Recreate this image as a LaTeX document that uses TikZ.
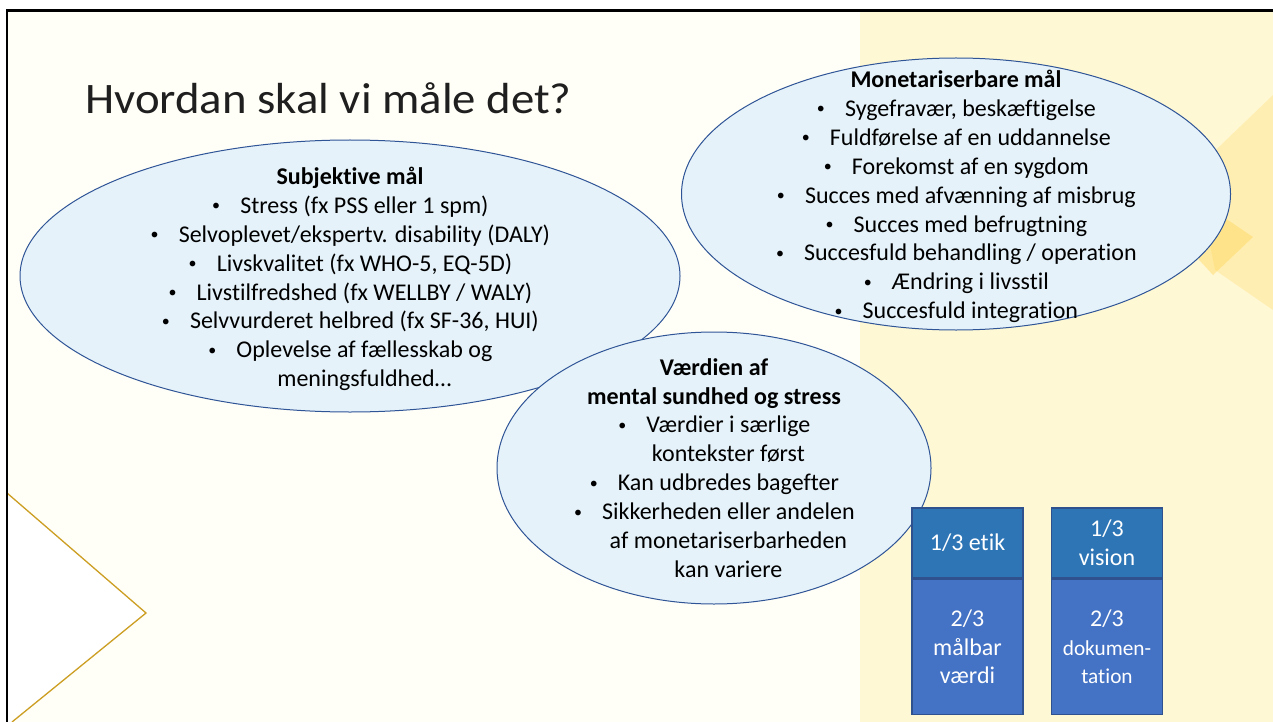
\documentclass[tikz,border=0pt]{standalone}
\usepackage{fontspec}
\setmainfont{Carlito}[Ligatures=CommonOff]
\usetikzlibrary{shapes.geometric,positioning}

\definecolor{bubblefill}{RGB}{229,242,249}
\definecolor{bubbleline}{RGB}{47,85,151}
\definecolor{etikblue}{RGB}{46,117,182}
\definecolor{maalblue}{RGB}{68,114,196}
\definecolor{boxline}{RGB}{47,82,143}
\definecolor{chevron}{RGB}{204,158,34}
\definecolor{slidebg}{RGB}{255,254,247}
\definecolor{tapeyellow}{RGB}{255,248,212}
\definecolor{tapegold}{RGB}{255,212,80}

\newcommand{\bul}{\makebox[1.2em][l]{\hspace{0.03em}\raisebox{0.11em}{\fontsize{16}{16}\selectfont •}}}
\newcommand{\ind}{\hspace*{1.2em}}

\tikzset{
  bubble/.style={ellipse, draw=bubbleline, fill=bubblefill, line width=1, inner sep=0},
  bubbletext/.style={align=center, inner sep=0, font=\fontsize{24}{28.9}\selectfont},
  cell/.style={rectangle, draw=boxline, line width=1.3, text=white, align=center,
    minimum width=111, inner sep=0, font=\fontsize{24}{28.8}\selectfont},
}

\begin{document}
\begin{tikzpicture}[x=1pt,y=-1pt]
\useasboundingbox (0,0) rectangle (1273,722);
\clip (0,0) rectangle (1273,722);

% baggrund
\fill[white] (0,0) rectangle (1273,722);
\fill[slidebg] (7,10.7) rectangle (1273,722);
\fill[tapeyellow] (860,12) rectangle (1273,722);
\fill[tapegold, opacity=.25] (1195,170) -- (1273,95) -- (1273,310) -- (1215,270) -- cycle;
\fill[tapegold, opacity=.4] (1190,250) -- (1213,210) -- (1253,237) -- (1213,275) -- cycle;
\fill[white] (7,493) -- (146,613) -- (12,722) -- (7,722) -- cycle;
\draw[chevron, line width=1.3] (7,493) -- (146,613) -- (12,722);
\draw[line width=2.5] (7,730) -- (7,10.7) -- (1280,10.7);

% titel
\node[anchor=base west, inner sep=0, text=black!88, font=\fontsize{43.5}{50}\selectfont] (titel) at (85,114) {\scalebox{1.075}[1]{Hvordan skal vi måle det?}};

% subjektive
\node[bubble, minimum width=660, minimum height=272] (subj) at (350,276) {};
\node[bubbletext] (subjtxt) at ([yshift=-3]subj.center) {\textbf{Subjektive mål}\\
\bul Stress (fx PSS eller 1 spm)\\
\bul Selvoplevet/ekspertv. disability (DALY)\\
\bul Livskvalitet (fx WHO-5, EQ-5D)\\
\bul Livstilfredshed (fx WELLBY / WALY)\\
\bul Selvvurderet helbred (fx SF-36, HUI)\\
\bul Oplevelse af fællesskab og\\
\ind meningsfuldhed…};

% monetariserbare
\node[bubble, minimum width=549, minimum height=272] (mon) at (956,194) {};
\node[bubbletext] (montxt) at ([yshift=-2.5]mon.center) {\textbf{Monetariserbare mål}\\
\bul Sygefravær, beskæftigelse\\
\bul Fuldførelse af en uddannelse\\
\bul Forekomst af en sygdom\\
\bul Succes med afvænning af misbrug\\
\bul Succes med befrugtning\\
\bul Succesfuld behandling / operation\\
\bul Ændring i livsstil\\
\bul Succesfuld integration};

% vaerdien
\node[bubble, minimum width=434, minimum height=272] (vaerdi) at (714,468) {};
\node[bubbletext] (vaerditxt) at (vaerdi.center) {\textbf{Værdien af}\\
\textbf{mental sundhed og stress}\\
\bul Værdier i særlige\\
\ind kontekster først\\
\bul Kan udbredes bagefter\\
\bul Sikkerheden eller andelen\\
\ind af monetariserbarheden\\
\ind kan variere};

% kasser
\node[cell, fill=etikblue, minimum height=70] (etik) at (967.5,543) {1/3 etik};
\node[cell, fill=maalblue, minimum height=135, below=0 of etik] (maalbar) {2/3\\målbar\\værdi};
\node[cell, fill=etikblue, minimum height=70] (vision) at (1107,543) {1/3\\vision};
\node[cell, fill=maalblue, minimum height=135, below=0 of vision] (dok) {2/3\\{\fontsize{21.3}{26}\selectfont dokumen-}\\{\fontsize{21.3}{26}\selectfont tation}};

\end{tikzpicture}
\end{document}
